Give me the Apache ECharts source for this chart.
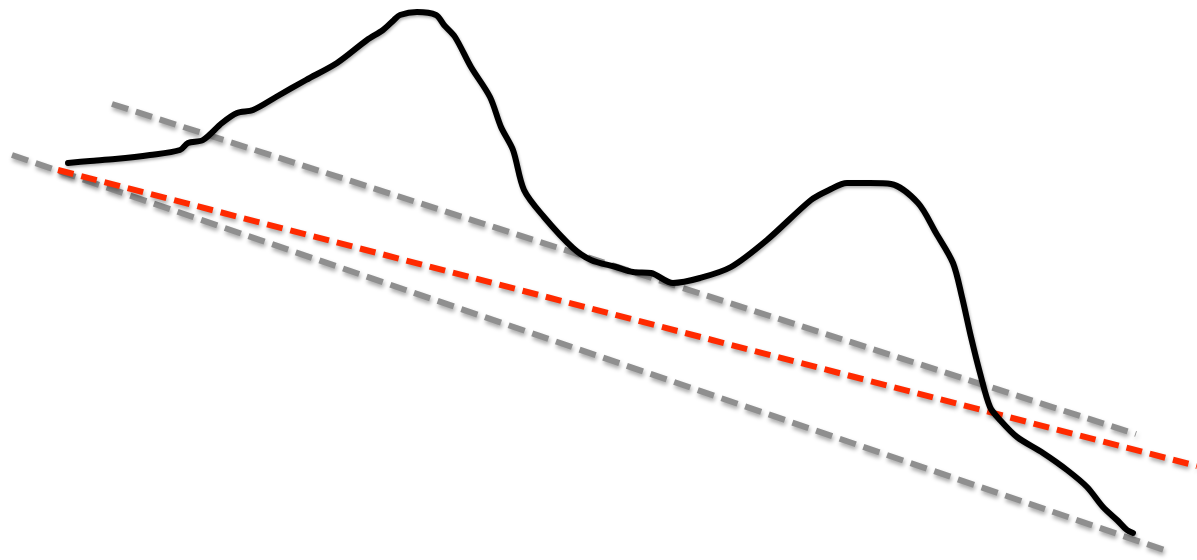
<!DOCTYPE html>
<html>
<head>
<meta charset="utf-8">
<script src="https://cdn.jsdelivr.net/npm/echarts@6/dist/echarts.min.js"></script>
<style>html,body{margin:0;padding:0;background:#fff}#c{width:1197px;height:560px}</style>
</head>
<body>
<div id="c"></div>
<script>
// Black wobbly curve (x, y values; y grows downward)
const curveX = [68,90,115,150,180,188,203,222,237,253,276,306,337,367,383,394,400,417,436,444,455,471,490,501,513,524,544,573,591,616,633,651,673,700,731,767,811,829,847,870,891,918,936,953,962,971,980,990,1000,1017,1043,1067,1087,1103,1117,1127,1133];
const curveY = [163,161,159,155,150,143,140,123,113,110,97,80,63,40,30,20,15,12,15,25,37,67,97,127,150,190,217,248,260,267,272,273,283,278,267,240,200,190,183,183,184,203,233,263,297,337,373,407,420,437,453,470,487,507,520,530,533];
// Dashed trend lines: [start, end]
const upperGrayX = [112,1136];
const upperGrayY = [104,434];
const lowerGrayX = [12,1170];
const lowerGrayY = [155,552];
const redX = [58,1197];
const redY = [170,466];

function pts(xs, ys){ return xs.map((x,i)=>[x, ys[i]]); }

const chart = echarts.init(document.getElementById('c'));
const shadow = {shadowColor:'rgba(0,0,0,0.35)', shadowBlur:4, shadowOffsetX:1, shadowOffsetY:3};
chart.setOption({
  animation:false,
  backgroundColor:'#ffffff',
  grid:{left:0,right:0,top:0,bottom:0},
  xAxis:{type:'value',min:0,max:1197,show:false},
  yAxis:{type:'value',min:0,max:560,inverse:true,show:false},
  series:[
    {type:'line',data:pts(lowerGrayX,lowerGrayY),showSymbol:false,
     lineStyle:Object.assign({color:'#8f8f8f',width:6,type:[17,8]},shadow)},
    {type:'line',data:pts(upperGrayX,upperGrayY),showSymbol:false,
     lineStyle:Object.assign({color:'#8f8f8f',width:6,type:[17,8]},shadow)},
    {type:'line',data:pts(redX,redY),showSymbol:false,
     lineStyle:Object.assign({color:'#ff2a00',width:6,type:[16,8]},shadow)},
    {type:'line',data:pts(curveX,curveY),showSymbol:false,smooth:0.3,
     lineStyle:Object.assign({color:'#000000',width:6,cap:'round',join:'round'},{shadowColor:'rgba(0,0,0,0.3)',shadowBlur:3,shadowOffsetX:1,shadowOffsetY:2})}
  ]
});
</script>
</body>
</html>
